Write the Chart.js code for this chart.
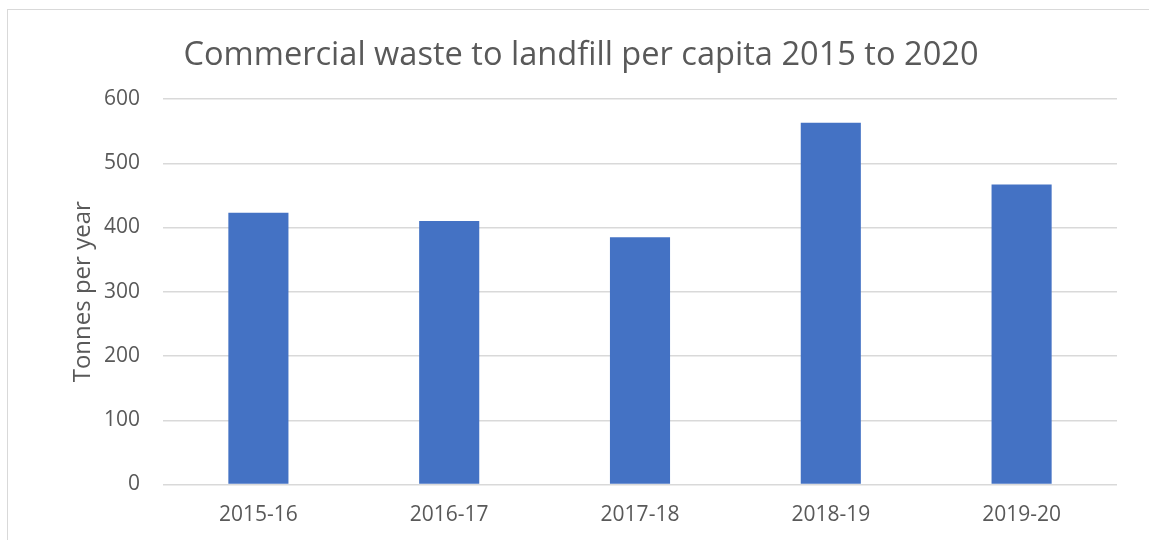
<!DOCTYPE html>
<html>
<head>
<meta charset="utf-8">
<script src="https://cdn.jsdelivr.net/npm/chart.js@4/dist/chart.umd.min.js"></script>
<style>
  html, body { margin: 0; padding: 0; background: #fff; overflow: hidden; }
  #wrap { position: relative; width: 1149px; height: 540px; }
  #frame { position: absolute; left: 7px; top: 9px; width: 2000px; height: 2000px; border: 1px solid #d9d9d9; box-sizing: border-box; }
  canvas { position: absolute; left: 0; top: 0; }
</style>
</head>
<body>
<div id="wrap">
  <div id="frame"></div>
  <canvas id="c" width="1149" height="540"></canvas>
</div>
<script>
const titleText = 'Commercial waste to landfill per capita 2015 to 2020';
const yAxisTitle = 'Tonnes per year';
const categories = ['2015-16', '2016-17', '2017-18', '2018-19', '2019-20'];
const tonnes = [423, 410, 385, 563, 467];
const yTicks = [0, 100, 200, 300, 400, 500, 600];

const textColor = '#595959';
const gridColor = '#d9d9d9';
const fontFamily = '"Open Sans", sans-serif';

new Chart(document.getElementById('c'), {
  type: 'bar',
  data: {
    labels: categories,
    datasets: [{
      data: tonnes,
      backgroundColor: '#4472C4',
      borderWidth: 0,
      categoryPercentage: 1,
      barPercentage: 0.315
    }]
  },
  options: {
    responsive: false,
    animation: false,
    layout: { padding: { left: 45, right: 32, top: 0, bottom: 0 } },
    plugins: {
      legend: { display: false },
      tooltip: { enabled: false },
      title: {
        display: true,
        text: titleText,
        color: textColor,
        font: { family: fontFamily, size: 32.6, weight: 'normal' },
        padding: { top: 36.5, bottom: 23.4 }
      }
    },
    scales: {
      x: {
        grid: { display: false, drawTicks: false },
        border: { display: false },
        ticks: {
          color: textColor,
          font: { family: fontFamily, size: 21 },
          padding: 18,
          maxRotation: 0
        },
        afterFit(scale) { scale.height = 55.5; }
      },
      y: {
        min: 0,
        max: yTicks[yTicks.length - 1],
        afterBuildTicks(scale) { scale.ticks = yTicks.map(v => ({ value: v })); },
        grid: { color: gridColor, lineWidth: 1.5, drawTicks: false },
        border: { display: false },
        ticks: {
          color: textColor,
          font: { family: fontFamily, size: 21 },
          padding: 23
        },
        title: {
          display: true,
          text: yAxisTitle,
          color: textColor,
          font: { family: fontFamily, size: 24 },
          padding: { top: 24, bottom: 0 }
        },
        afterFit(scale) { scale.width = 118; }
      }
    }
  }
});
</script>
</body>
</html>
